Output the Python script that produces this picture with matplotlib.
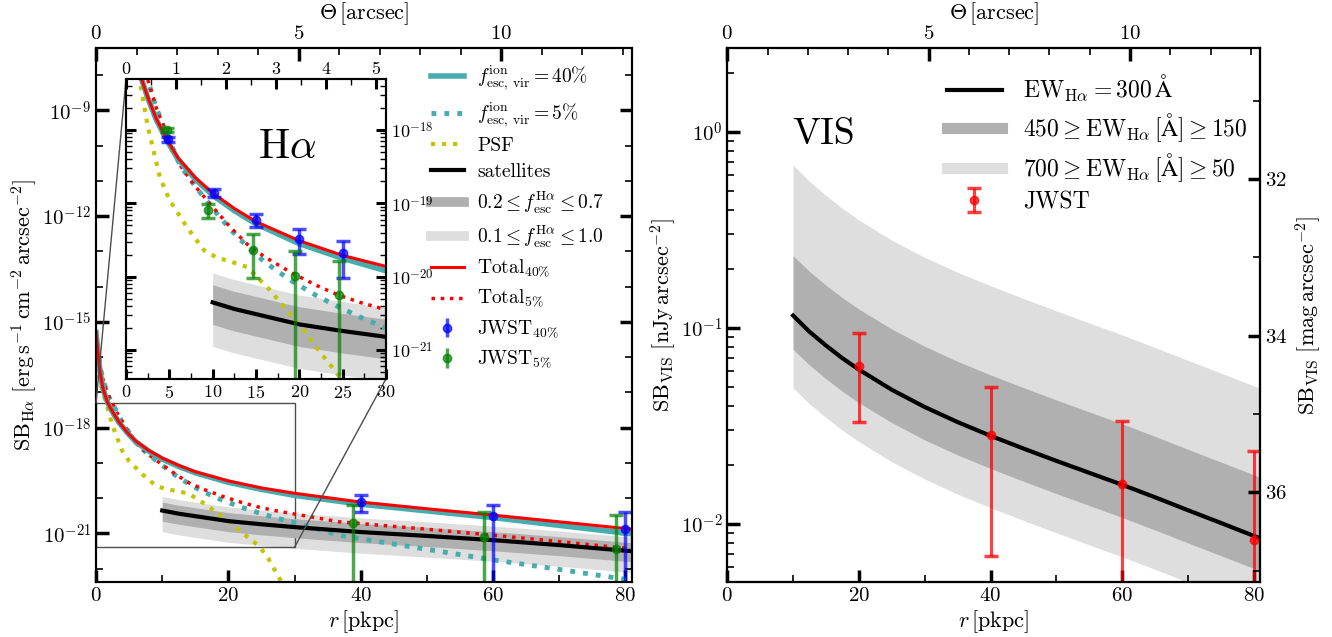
import numpy as np
import matplotlib
matplotlib.use('Agg')
import matplotlib.pyplot as plt
from matplotlib.lines import Line2D
from matplotlib.ticker import FixedLocator, MultipleLocator, LogLocator, NullFormatter
from mpl_toolkits.axes_grid1.inset_locator import mark_inset

plt.rcParams['font.family'] = 'serif'
plt.rcParams['font.serif'] = ['cmr10', 'DejaVu Serif']
plt.rcParams['mathtext.fontset'] = 'cm'
plt.rcParams['axes.formatter.use_mathtext'] = True

KPC_PER_ARCSEC = 6.12
ZP_MAG = 31.4

# ---------------- H-alpha panel (log10 of SB) ----------------
r_tot40 = [0, 0.3, 0.6, 1.0, 1.4, 1.8, 2.5, 3.5, 4.7, 6, 8, 10, 12.5, 15, 20, 25, 30, 40, 50, 60, 70, 80, 81]
sb_tot40 = [-15.3, -15.9, -16.4, -16.85, -17.1, -17.31, -17.55, -17.85, -18.13, -18.38, -18.65, -18.86,
            -19.07, -19.25, -19.51, -19.71, -19.86, -20.11, -20.30, -20.48, -20.67, -20.86, -20.88]
sb_fesc40 = [-15.3, -15.9, -16.4, -16.85, -17.1, -17.31, -17.56, -17.86, -18.14, -18.40, -18.67, -18.89,
             -19.10, -19.28, -19.55, -19.75, -19.92, -20.17, -20.36, -20.55, -20.77, -20.99, -21.01]

r_tot5 = [0, 0.3, 0.6, 1.0, 1.5, 2.0, 2.57, 3.5, 4.5, 6.23, 8, 10, 12, 14, 16, 19, 22, 24.5, 27, 30,
          36.8, 40, 50, 60, 70, 80, 81]
sb_tot5 = [-15.3, -15.8, -16.25, -16.6, -16.9, -17.15, -17.34, -17.7, -18.0, -18.48, -18.77, -19.05,
           -19.32, -19.56, -19.73, -19.94, -20.12, -20.25, -20.35, -20.45, -20.67, -20.72, -20.88,
           -21.05, -21.23, -21.42, -21.44]
sb_fesc5 = [-15.3, -15.8, -16.25, -16.6, -16.9, -17.15, -17.34, -17.7, -18.0, -18.48, -18.77, -19.07,
            -19.35, -19.59, -19.80, -20.05, -20.26, -20.41, -20.55, -20.70, -21.05, -21.15, -21.45,
            -21.75, -22.02, -22.30, -22.33]

r_psf = [0, 0.5, 1.0, 1.6, 2.5, 3.9, 5, 7, 9, 10.5, 12, 14, 16.6, 18.5, 20.5, 22.8, 24.7, 26, 27.8, 28.5]
sb_psf = [-16.2, -16.6, -17.0, -17.34, -17.95, -18.64, -18.95, -19.32, -19.64, -19.74, -19.79, -19.87,
          -20.18, -20.45, -20.73, -21.09, -21.37, -21.7, -22.3, -22.45]

r_sat = [10, 12.5, 15, 20, 25, 30, 40, 50, 60, 70, 80, 81]
sb_sat = [-20.35, -20.44, -20.51, -20.65, -20.74, -20.82, -20.96, -21.07, -21.19, -21.33, -21.49, -21.50]
sb_sat_dark_hi = [-20.11, -20.20, -20.27, -20.41, -20.50, -20.58, -20.72, -20.83, -20.95, -21.09, -21.25, -21.26]
sb_sat_dark_lo = [-20.65, -20.74, -20.81, -20.95, -21.04, -21.12, -21.26, -21.37, -21.49, -21.63, -21.79, -21.80]
sb_sat_light_hi = [-19.95, -20.04, -20.11, -20.25, -20.34, -20.42, -20.56, -20.67, -20.79, -20.93, -21.09, -21.10]
sb_sat_light_lo = [-20.95, -21.04, -21.11, -21.25, -21.34, -21.42, -21.56, -21.67, -21.79, -21.93, -22.09, -22.10]

# JWST points (first five shown in the inset, last three in the main panel); -30 = no lower bound
jw40_r = [4.9, 10.1, 15.0, 20.0, 25.0, 40.0, 60.0, 80.0]
jw40_sb = [-18.13, -18.86, -19.23, -19.49, -19.68, -20.11, -20.51, -20.88]
jw40_hi = [-18.10, -18.81, -19.14, -19.35, -19.51, -19.92, -20.20, -20.39]
jw40_lo = [-18.16, -18.92, -19.32, -19.69, -20.02, -20.39, -30, -30]
jw5_r = [4.7, 9.5, 14.6, 19.5, 24.6, 38.8, 58.6, 78.6]
jw5_sb = [-18.0, -19.09, -19.64, -19.99, -20.25, -20.70, -21.11, -21.44]
jw5_hi = [-17.97, -19.01, -19.42, -19.65, -19.78, -20.20, -20.39, -20.48]
jw5_lo = [-18.03, -19.20, -20.02, -30, -30, -30, -30, -30]

# ---------------- VIS panel (log10 of nJy/arcsec^2) ----------------
r_vis = [10, 12.5, 15, 17.5, 20, 25, 30, 35, 40, 45, 50, 55, 60, 65, 70, 75, 80, 81]
vis_ew300 = [-0.937, -1.020, -1.090, -1.155, -1.213, -1.316, -1.404, -1.481, -1.551, -1.616, -1.679,
             -1.740, -1.801, -1.865, -1.931, -1.996, -2.062, -2.075]
vis_dark_hi = [-0.632, -0.712, -0.782, -0.846, -0.904, -1.006, -1.094, -1.171, -1.240, -1.305, -1.368,
               -1.429, -1.490, -1.554, -1.620, -1.685, -1.750, -1.763]
vis_dark_lo = [-1.110, -1.190, -1.260, -1.324, -1.382, -1.484, -1.572, -1.649, -1.718, -1.783, -1.846,
               -1.907, -1.968, -2.032, -2.098, -2.163, -2.228, -2.241]
vis_light_hi = [-0.168, -0.252, -0.324, -0.390, -0.449, -0.552, -0.640, -0.716, -0.785, -0.850, -0.913,
                -0.975, -1.036, -1.100, -1.166, -1.231, -1.296, -1.309]
vis_light_lo = [-1.306, -1.388, -1.458, -1.523, -1.581, -1.684, -1.772, -1.849, -1.918, -1.983, -2.046,
                -2.108, -2.169, -2.233, -2.299, -2.364, -2.430, -2.443]

jw_vis_r = [20, 40, 60, 80]
jw_vis = [0.0637, 0.0283, 0.0159, 0.00828]
jw_vis_hi = [0.094, 0.050, 0.0336, 0.0236]
jw_vis_lo = [0.033, 0.00683, 1e-6, 1e-6]

TEAL = '#45adad'
YEL = '#c4c400'
DARK = '#b0b0b0'
LIGHT = '#dedede'


def p(v):
    return 10.0 ** np.asarray(v, dtype=float)


def style(ax, big=True):
    if big:
        ax.tick_params(which='major', direction='in', length=9, width=2.5, labelsize=15)
        ax.tick_params(which='minor', direction='in', length=5, width=1.2)
    else:
        ax.tick_params(which='major', direction='in', length=7, width=2.2, labelsize=13)
        ax.tick_params(which='minor', direction='in', length=4, width=1.0)
    for s in ax.spines.values():
        s.set_linewidth(1.5)


def draw_halpha(ax):
    ax.fill_between(r_sat, p(sb_sat_light_lo), p(sb_sat_light_hi), color=LIGHT, lw=0, zorder=1)
    ax.fill_between(r_sat, p(sb_sat_dark_lo), p(sb_sat_dark_hi), color=DARK, lw=0, zorder=1.1)
    ax.plot(r_tot5, p(sb_fesc5), ls=':', color=TEAL, lw=3.5, zorder=2)
    ax.plot(r_tot5, p(sb_tot5), ls=':', color='r', lw=2.5, zorder=2.1)
    ax.plot(r_psf, p(sb_psf), ls=':', color=YEL, lw=3, zorder=2.2)
    ax.plot(r_sat, p(sb_sat), color='k', lw=3, zorder=2.3)
    ax.plot(r_tot40, p(sb_fesc40), color=TEAL, lw=4, zorder=2.4)
    ax.plot(r_tot40, p(sb_tot40), color='r', lw=2.2, zorder=2.5)


def draw_jwst(ax, sl):
    for rr, vv, hh, ll, c in [(jw40_r, jw40_sb, jw40_hi, jw40_lo, 'b'),
                              (jw5_r, jw5_sb, jw5_hi, jw5_lo, 'g')]:
        x = np.array(rr)[sl]
        v = p(vv)[sl]
        err = [v - p(ll)[sl], p(hh)[sl] - v]
        ax.errorbar(x, v, yerr=err, fmt='o', color=c, ms=6, capsize=5, capthick=2.5,
                    elinewidth=2.5, alpha=0.7, zorder=3)


def dec(k):
    return r'$10^{-%d}$' % k


fig = plt.figure(figsize=(13.32, 6.37), dpi=100)

# ---------- left: H-alpha ----------
ax1 = fig.add_axes([0.0721, 0.0856, 0.4024, 0.8393])
ax1.set_yscale('log')
draw_halpha(ax1)
draw_jwst(ax1, slice(5, 8))
ax1.set_xlim(0, 81)
ax1.set_ylim(10 ** -22.39, 10 ** -7.23)
ax1.set_xticks([0, 20, 40, 60, 80])
ax1.xaxis.set_minor_locator(MultipleLocator(10))
ax1.set_yticks([1e-21, 1e-18, 1e-15, 1e-12, 1e-9])
ax1.set_yticklabels([dec(21), dec(18), dec(15), dec(12), dec(9)])
ax1.yaxis.set_minor_locator(FixedLocator([10.0 ** k for k in range(-22, -7)]))
ax1.yaxis.set_minor_formatter(NullFormatter())
style(ax1)
ax1.tick_params(which='both', right=True, top=False)
ax1.set_xlabel(r'$r\,[\mathrm{pkpc}]$', fontsize=16, labelpad=2)
ax1.set_ylabel(r'$\mathrm{SB_{H\alpha}}\ [\mathrm{erg\,s^{-1}\,cm^{-2}\,arcsec^{-2}}]$', fontsize=16, labelpad=2)

ax1t = ax1.twiny()
ax1t.set_xlim(0, 81 / KPC_PER_ARCSEC)
ax1t.set_xticks([0, 5, 10])
ax1t.xaxis.set_minor_locator(MultipleLocator(1))
style(ax1t)
ax1t.set_xlabel(r'$\Theta\,[\mathrm{arcsec}]$', fontsize=16, labelpad=4)

handles = [
    Line2D([], [], color=TEAL, lw=4),
    Line2D([], [], color=TEAL, lw=3.5, ls=':'),
    Line2D([], [], color=YEL, lw=3, ls=':'),
    Line2D([], [], color='k', lw=3),
    Line2D([], [], color=DARK, lw=7),
    Line2D([], [], color=LIGHT, lw=7),
    Line2D([], [], color='r', lw=2.2),
    Line2D([], [], color='r', lw=2.5, ls=':'),
]
labels = [
    r'$f_{\rm esc,\,vir}^{\rm ion}=40\%$',
    r'$f_{\rm esc,\,vir}^{\rm ion}=5\%$',
    'PSF',
    'satellites',
    r'$0.2\leq f_{\rm esc}^{\rm H\alpha}\leq 0.7$',
    r'$0.1\leq f_{\rm esc}^{\rm H\alpha}\leq 1.0$',
    r'$\rm Total_{40\%}$',
    r'$\rm Total_{5\%}$',
]
eb40 = ax1.errorbar([], [], yerr=[], fmt='o', color='b', ms=6, capsize=5, capthick=2.5, elinewidth=2.5, alpha=0.7)
eb5 = ax1.errorbar([], [], yerr=[], fmt='o', color='g', ms=6, capsize=5, capthick=2.5, elinewidth=2.5, alpha=0.7)
handles += [eb40, eb5]
labels += [r'$\rm JWST_{40\%}$', r'$\rm JWST_{5\%}$']
ax1.legend(handles, labels, loc='upper left', bbox_to_anchor=(0.61, 0.985), borderaxespad=0,
           frameon=False, fontsize=14, handlelength=1.7, labelspacing=0.42, handletextpad=0.7)

# inset
axin = fig.add_axes([0.0946, 0.4055, 0.1952, 0.470])
axin.set_yscale('log')
draw_halpha(axin)
draw_jwst(axin, slice(0, 5))
axin.set_xlim(0, 30)
axin.set_ylim(10 ** -21.39, 10 ** -17.31)
axin.set_xticks([0, 5, 10, 15, 20, 25, 30])
axin.xaxis.set_minor_locator(MultipleLocator(2.5))
axin.set_yticks([1e-21, 1e-20, 1e-19, 1e-18])
axin.set_yticklabels([dec(21), dec(20), dec(19), dec(18)])
axin.yaxis.set_minor_locator(LogLocator(base=10, subs=np.arange(2, 10), numticks=20))
axin.yaxis.set_minor_formatter(NullFormatter())
style(axin, big=False)
axin.tick_params(which='both', left=True, right=True, labelleft=False, labelright=True, top=False)
axin.text(0.62, 0.775, r'$\rm H\alpha$', transform=axin.transAxes, fontsize=30, ha='center', va='center')

axint = axin.twiny()
axint.set_xlim(0, 5.2)
axint.set_xticks([0, 1, 2, 3, 4, 5])
axint.xaxis.set_minor_locator(MultipleLocator(0.5))
style(axint, big=False)
axint.tick_params(pad=2)

mark_inset(ax1, axin, loc1=2, loc2=4, fc='none', ec='0.3', lw=1.0)

# ---------- right: VIS ----------
ax2 = fig.add_axes([0.5460, 0.0856, 0.4002, 0.8393])
ax2.set_yscale('log')
ax2.fill_between(r_vis, p(vis_light_lo), p(vis_light_hi), color=LIGHT, lw=0, zorder=1)
ax2.fill_between(r_vis, p(vis_dark_lo), p(vis_dark_hi), color=DARK, lw=0, zorder=1.1)
ax2.plot(r_vis, p(vis_ew300), color='k', lw=3, zorder=2)
jv = np.array(jw_vis)
ebv = ax2.errorbar(jw_vis_r, jv, yerr=[jv - np.array(jw_vis_lo), np.array(jw_vis_hi) - jv], fmt='o',
                   color='r', ms=6, capsize=5, capthick=2.5, elinewidth=2.2, alpha=0.75, zorder=3)
ax2.set_xlim(0, 81)
ax2.set_ylim(10 ** -2.30, 10 ** 0.43)
ax2.set_xticks([0, 20, 40, 60, 80])
ax2.xaxis.set_minor_locator(MultipleLocator(10))
ax2.set_yticks([1e-2, 1e-1, 1])
ax2.set_yticklabels([dec(2), dec(1), r'$10^{0}$'])
ax2.yaxis.set_minor_locator(LogLocator(base=10, subs=np.arange(2, 10), numticks=20))
ax2.yaxis.set_minor_formatter(NullFormatter())
style(ax2)
ax2.tick_params(which='both', right=False, top=False)
ax2.set_xlabel(r'$r\,[\mathrm{pkpc}]$', fontsize=16, labelpad=2)
ax2.set_ylabel(r'$\mathrm{SB_{VIS}}\ [\mathrm{nJy\,arcsec^{-2}}]$', fontsize=16, labelpad=2)
ax2.text(0.18, 0.838, 'VIS', transform=ax2.transAxes, fontsize=27, ha='center', va='center')

vh = [Line2D([], [], color='k', lw=3), Line2D([], [], color=DARK, lw=8), Line2D([], [], color=LIGHT, lw=8), ebv]
vl = [r'$\rm EW_{H\alpha}=300\,\AA$', r'$450\geq \rm EW_{H\alpha}\,[\AA]\geq 150$',
      r'$700\geq \rm EW_{H\alpha}\,[\AA]\geq 50$', 'JWST']
ax2.legend(vh, vl, loc='upper left', bbox_to_anchor=(0.395, 0.97), borderaxespad=0, frameon=False,
           fontsize=17, handlelength=2.3, labelspacing=0.3, handletextpad=0.9)

ax2t = ax2.twiny()
ax2t.set_xlim(0, 81 / KPC_PER_ARCSEC)
ax2t.set_xticks([0, 5, 10])
ax2t.xaxis.set_minor_locator(MultipleLocator(1))
style(ax2t)
ax2t.set_xlabel(r'$\Theta\,[\mathrm{arcsec}]$', fontsize=16, labelpad=4)

ax2m = ax2.twinx()
ax2m.set_ylim(ZP_MAG + 2.5 * 2.30, ZP_MAG - 2.5 * 0.43)
ax2m.set_yticks([32, 34, 36])
ax2m.yaxis.set_minor_locator(MultipleLocator(1))
style(ax2m)
ax2m.set_ylabel(r'$\mathrm{SB_{VIS}}\ [\mathrm{mag\,arcsec^{-2}}]$', fontsize=16, labelpad=4)

fig.savefig('out.png', dpi=100)
